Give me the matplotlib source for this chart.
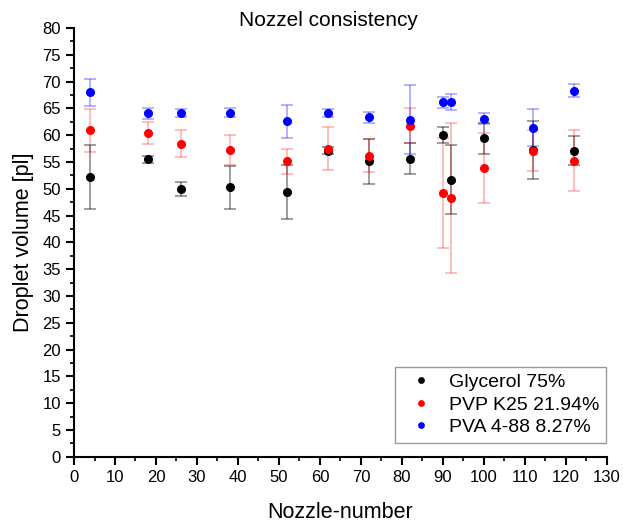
import matplotlib
matplotlib.use("Agg")
import matplotlib.pyplot as plt
from matplotlib.ticker import MultipleLocator

plt.rcParams['font.family'] = ['Liberation Sans', 'DejaVu Sans']

nozzles = [4, 18, 26, 38, 52, 62, 72, 82, 90, 92, 100, 112, 122]

glycerol     = [52.2, 55.5, 49.9, 50.3, 49.4, 57.1, 55.1, 55.6, 60.0, 51.7, 59.4, 57.3, 57.1]
glycerol_err = [6.0, 0.7, 1.3, 4.0, 5.0, 0.7, 4.2, 2.9, 1.5, 6.45, 2.9, 5.4, 2.7]

pvp     = [60.9, 60.4, 58.4, 57.2, 55.1, 57.5, 56.2, 61.8, 49.2, 48.2, 53.9, 57.1, 55.2]
pvp_err = [4.0, 2.0, 2.5, 2.8, 2.4, 4.0, 3.0, 3.3, 10.2, 14.0, 6.5, 3.8, 5.7]

pva     = [68.0, 64.1, 64.1, 64.2, 62.6, 64.1, 63.3, 62.9, 66.1, 66.2, 63.1, 61.4, 68.3]
pva_err = [2.5, 1.0, 0.75, 0.8, 3.1, 0.7, 1.05, 6.4, 1.1, 1.55, 1.0, 3.5, 1.2]

series = [
    (glycerol, glycerol_err, 'black', 0.45, 'Glycerol 75%'),
    (pvp,      pvp_err,      'red',   0.3,  'PVP K25 21.94%'),
    (pva,      pva_err,      'blue',  0.35, 'PVA 4-88 8.27%'),
]

fig = plt.figure(figsize=(6.23, 5.25), dpi=100)
ax = fig.add_axes([0.1188, 0.130, 0.8552, 0.8167])

for vals, errs, col, a, lab in series:
    ax.errorbar(nozzles, vals, yerr=errs, fmt='none', ecolor=col, alpha=a,
                elinewidth=1.2, capsize=4, capthick=1.2)
    ax.plot(nozzles, vals, 'o', color=col, ms=5.5, label=lab, zorder=3)

ax.set_xlim(0, 130)
ax.set_ylim(0, 80)
ax.xaxis.set_major_locator(MultipleLocator(10))
ax.xaxis.set_minor_locator(MultipleLocator(5))
ax.yaxis.set_major_locator(MultipleLocator(5))
ax.yaxis.set_minor_locator(MultipleLocator(2.5))

for s in ['top', 'right']:
    ax.spines[s].set_visible(False)
for s in ['left', 'bottom']:
    ax.spines[s].set_linewidth(1.5)
ax.tick_params(which='major', direction='out', length=6, width=1.5, labelsize=12)
ax.tick_params(which='minor', direction='out', length=3, width=1.2)

ax.set_xlabel('Nozzle-number', fontsize=15.5, labelpad=12)
ax.set_ylabel('Droplet volume [pl]', fontsize=15.5, labelpad=6)
fig.text(0.527, 0.96, 'Nozzel consistency', fontsize=15, ha='center', va='center')

leg = ax.legend(loc='lower right', bbox_to_anchor=(0.998, 0.032), borderaxespad=0,
                fontsize=14, markerscale=0.7, fancybox=False,
                edgecolor='#999999', framealpha=1,
                handletextpad=0.4, handlelength=2.0, labelspacing=0.25,
                borderpad=0.35)
leg.get_frame().set_linewidth(1.0)

fig.savefig('out.png', dpi=100)
